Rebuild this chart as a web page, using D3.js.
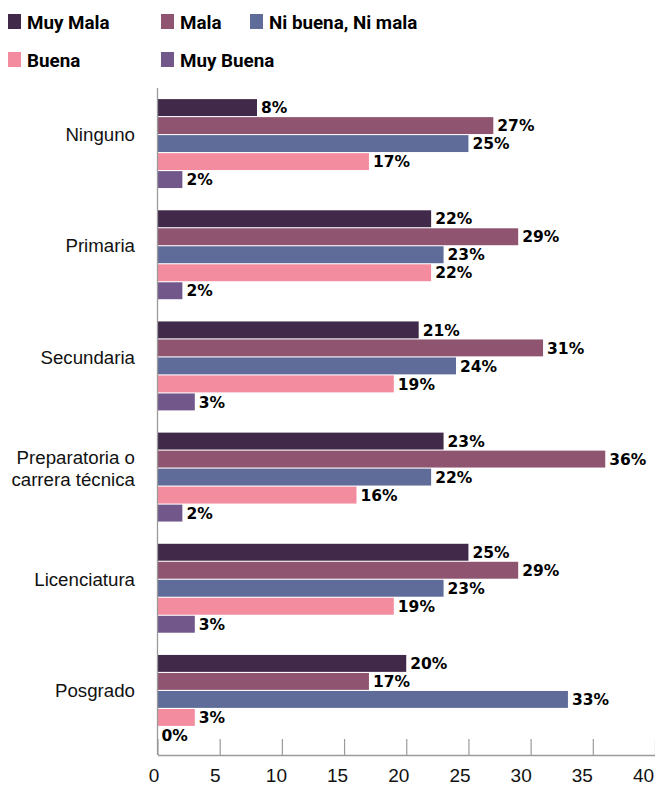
<!DOCTYPE html>
<html><head><meta charset="utf-8">
<script src="https://cdn.jsdelivr.net/npm/d3@7"></script>
<style>body{margin:0;background:#fff}svg{display:block}</style>
</head><body>
<svg id="c" width="655" height="785"></svg>
<script>
const categories = ["Ninguno","Primaria","Secundaria","Preparatoria o\ncarrera técnica","Licenciatura","Posgrado"];
const seriesNames = ["Muy Mala","Mala","Ni buena, Ni mala","Buena","Muy Buena"];
const seriesColors = ["#41294a","#8f5570","#5f6b98","#f48ca0","#72578a"];
const muyMala  = [8,22,21,23,25,20];
const mala     = [27,29,31,36,29,17];
const niBuena  = [25,23,24,22,23,33];
const buena    = [17,22,19,16,19,3];
const muyBuena = [2,2,3,2,3,0];
const xTicks = [0,5,10,15,20,25,30,35,40];
const seriesValues = [muyMala, mala, niBuena, buena, muyBuena];

const svg = d3.select("#c");
const x = d3.scaleLinear().domain([0,40]).range([157.5,655]);
const y0 = d3.scaleBand().domain(categories).range([88,755]).paddingInner(0.2).paddingOuter(0.1);
const y1 = d3.scaleBand().domain(seriesNames).range([0,y0.bandwidth()]).paddingInner(0.06);

// legend
const legendPos = [[8,14],[161,14],[250,14],[8,52],[161,52]];
seriesNames.forEach((s,i)=>{
  const g = svg.append("g").attr("transform",`translate(${legendPos[i][0]},${legendPos[i][1]})`);
  g.append("rect").attr("width",13).attr("height",15).attr("fill",seriesColors[i]);
  g.append("text").attr("x",19).attr("y",15.3).text(s)
   .attr("font-family","Roboto, Arial, sans-serif").attr("font-weight","bold").attr("font-size",18.8).attr("fill","#000");
});

// bars
categories.forEach((c,ci)=>{
  const g = svg.append("g").attr("transform",`translate(0,${y0(c)})`);
  seriesNames.forEach((s,si)=>{
    const v = seriesValues[si][ci];
    g.append("rect").attr("x",x(0)).attr("y",y1(s)).attr("width",x(v)-x(0)).attr("height",y1.bandwidth()).attr("fill",seriesColors[si]);
    g.append("text").attr("x",x(v)+4).attr("y",y1(s)+y1.bandwidth()/2).attr("dy","0.37em")
     .text(v+"%").attr("font-family","DejaVu Sans, sans-serif").attr("font-weight","bold").attr("font-size",15.5).attr("fill","#000");
  });
  const lines = c.split("\n");
  const t = g.append("text").attr("text-anchor","end").attr("font-family","Liberation Sans, Arial, sans-serif").attr("font-size",18.7).attr("fill","#111");
  lines.forEach((l,li)=>{
    t.append("tspan").attr("x",135).attr("y",y0.bandwidth()/2 - 9 + (li-(lines.length-1)/2)*22).attr("dy","0.36em").text(l);
  });
});

// y axis line
svg.append("line").attr("x1",x(0)).attr("x2",x(0)).attr("y1",88).attr("y2",755).attr("stroke","#9a9a9a").attr("stroke-width",1.3);

// x axis
const ax = svg.append("g").attr("transform","translate(0,755)")
  .call(d3.axisBottom(x).tickValues(xTicks).tickSizeInner(-16).tickSizeOuter(0).tickPadding(0));
ax.select(".domain").attr("stroke","#9a9a9a").attr("stroke-width",1.3);
ax.selectAll(".tick line").attr("stroke","#9a9a9a").attr("stroke-width",1.2);
ax.selectAll(".tick text").attr("y",20).attr("dy","0.36em").attr("x",d=>-4-d*0.2)
  .attr("font-family","Liberation Sans, Arial, sans-serif").attr("font-size",19).attr("fill","#111");
</script>
</body></html>
